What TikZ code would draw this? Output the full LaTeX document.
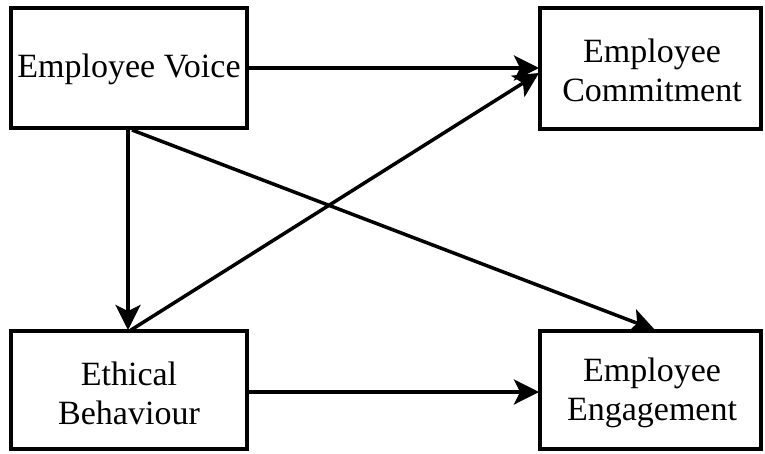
\documentclass[tikz,border=0pt]{standalone}
\usepackage{fontspec}
\setmainfont{Liberation Serif}
\usetikzlibrary{arrows.meta}
\begin{document}
\begin{tikzpicture}[x=1pt,y=-1pt,
  box/.style={draw,line width=4pt,rectangle,inner sep=0pt},
  lbl/.style={align=center,font=\fontsize{34}{39}\selectfont},
  arr/.style={line width=3.5pt,-{Stealth[length=25pt,width=25pt,inset=6pt]}}]
\useasboundingbox (0,0) rectangle (765,453);
\draw[box] (11,8) rectangle (247,128);
\draw[box] (540,8) rectangle (761,129);
\draw[box] (11,331) rectangle (247,449);
\draw[box] (540,331) rectangle (761,449);
\node[lbl] (ev) at (129,69) {Employee Voice};
\node[lbl] (ec) at (652,70) {Employee\\Commitment};
\node[lbl] (eb) at (129,393) {Ethical\\Behaviour};
\node[lbl] (ee) at (652,393) {Employee\\Engagement};
\coordinate (evE) at (249,68);
\coordinate (ecW) at (539,68);
\coordinate (evB1) at (128,130);
\coordinate (ebT1) at (128,330);
\coordinate (evB2) at (132,130);
\coordinate (eeT) at (655,330);
\coordinate (ebT2) at (131,330);
\coordinate (ecW2) at (539,73);
\coordinate (ebE) at (249,392);
\coordinate (eeW) at (539,392);
\draw[arr] (evE) -- (ecW);
\draw[arr] (evB1) -- (ebT1);
\draw[arr] (evB2) -- (eeT);
\draw[arr] (ebT2) -- (ecW2);
\draw[arr] (ebE) -- (eeW);
\end{tikzpicture}
\end{document}
